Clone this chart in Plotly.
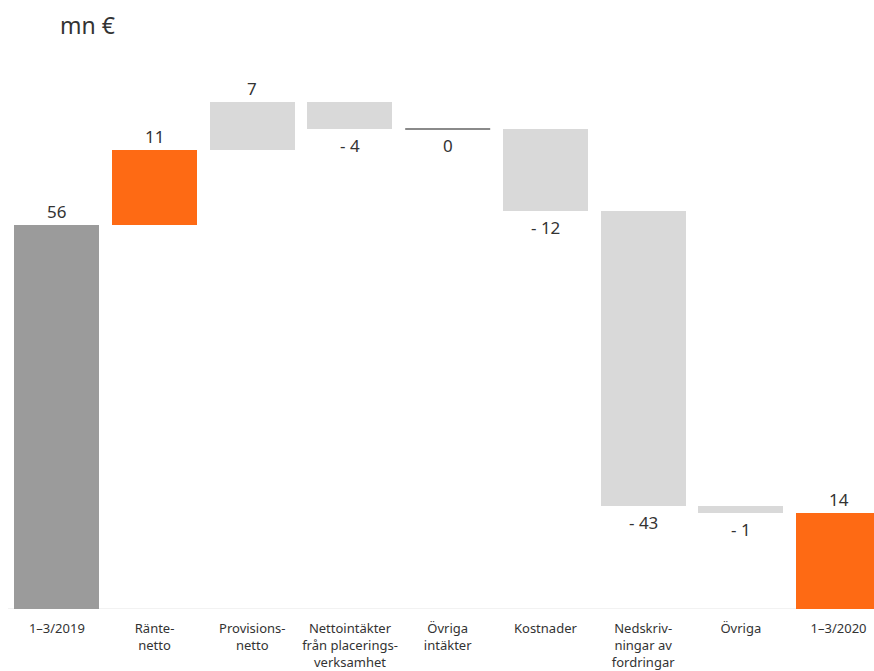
import plotly.graph_objects as go

# Rörelseresultat-brygga, mn €
categories = ["1–3/2019", "Ränte-<br>netto", "Provisions-<br>netto",
              "Nettointäkter<br>från placerings-<br>verksamhet", "Övriga<br>intäkter",
              "Kostnader", "Nedskriv-<br>ningar av<br>fordringar", "Övriga", "1–3/2020"]
values = [56, 11, 7, -4, 0, -12, -43, -1, 14]
kinds = ["total", "highlight", "delta", "delta", "delta", "delta", "delta", "delta", "highlight_total"]

GRAY_TOTAL = "#9b9b9b"
ORANGE = "#fe6a14"
LIGHT = "#d9d9d9"
ZERO_LINE = "#8a8a8a"
TEXT = "#333333"
FONT = "Noto Sans"

# bases from the running total
bases, heights, colors = [], [], []
running = 0
for v, k in zip(values, kinds):
    if k in ("total", "highlight_total"):
        bases.append(0)
        heights.append(v)
        running = v
    else:
        bases.append(running)
        heights.append(v)
        running += v
    colors.append(GRAY_TOTAL if k == "total" else ORANGE if k.startswith("highlight") else LIGHT)

xs = list(range(len(categories)))
BAR_W = 0.87

fig = go.Figure()
nonzero = [i for i, v in enumerate(values) if v != 0]
fig.add_trace(go.Bar(
    x=[xs[i] for i in nonzero], y=[heights[i] for i in nonzero], base=[bases[i] for i in nonzero],
    marker=dict(color=[colors[i] for i in nonzero], line=dict(width=0)),
    width=BAR_W, hoverinfo="skip", showlegend=False,
))

# zero-valued step drawn as a thin line at its level
for i, v in enumerate(values):
    if v == 0:
        fig.add_trace(go.Scatter(
            x=[xs[i] - BAR_W / 2, xs[i] + BAR_W / 2], y=[bases[i], bases[i]],
            mode="lines", line=dict(color=ZERO_LINE, width=2),
            hoverinfo="skip", showlegend=False,
        ))

# value labels: above for gains/totals, below for reductions
for i, v in enumerate(values):
    top = bases[i] + max(heights[i], 0)
    bottom = bases[i] + min(heights[i], 0)
    if v < 0 or (v == 0 and kinds[i] == "delta"):
        txt = f"- {abs(v)}" if v < 0 else "0"
        fig.add_annotation(x=xs[i], y=bottom, text=txt, showarrow=False,
                           yanchor="top", yshift=-3,
                           font=dict(size=17, color=TEXT, family=FONT))
    else:
        fig.add_annotation(x=xs[i], y=top, text=str(v), showarrow=False,
                           yanchor="bottom", yshift=0,
                           font=dict(size=17, color=TEXT, family=FONT))

fig.add_annotation(xref="paper", yref="paper", x=0, y=1, xshift=50, yshift=55,
                   xanchor="left", yanchor="middle", text="mn €", showarrow=False,
                   font=dict(size=23, color=TEXT, family=FONT))

# faint baseline
fig.add_shape(type="line", xref="paper", yref="y", x0=0, x1=1, y0=0, y1=0,
              line=dict(color="#eeeeee", width=1.5), layer="below")

fig.update_layout(
    width=874, height=671,
    margin=dict(l=8, r=0, t=80, b=62),
    paper_bgcolor="white", plot_bgcolor="white",
    bargap=0,
    font=dict(family=FONT, color=TEXT),
    xaxis=dict(range=[-0.5, 8.363], tickmode="array", tickvals=xs, ticktext=categories,
               showgrid=False, zeroline=False, showline=False, ticks="",
               ticklabelstandoff=10,
               tickfont=dict(size=13, color=TEXT, family=FONT)),
    yaxis=dict(range=[0, 77.15], visible=False, showgrid=False, zeroline=False),
)

fig.write_html("out.html")
